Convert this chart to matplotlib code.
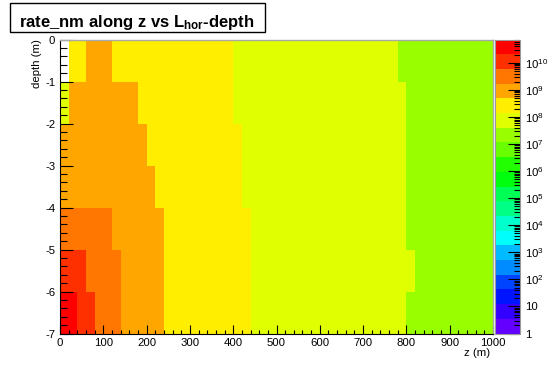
import colorsys
import numpy as np
import matplotlib
matplotlib.use('Agg')
import matplotlib.pyplot as plt
from matplotlib.colors import ListedColormap, LogNorm
from matplotlib.ticker import MultipleLocator, FixedLocator, LogLocator, NullFormatter
from matplotlib.patches import Rectangle

plt.rcParams['font.family'] = ['Liberation Sans', 'DejaVu Sans']
plt.rcParams['axes.unicode_minus'] = False
plt.rcParams['mathtext.fontset'] = 'custom'
plt.rcParams['mathtext.rm'] = 'Liberation Sans'
plt.rcParams['mathtext.bf'] = 'Liberation Sans:bold'
plt.rcParams['mathtext.default'] = 'regular'

# binning of the histogram
z_edges = np.arange(0, 1001, 20)
depth_edges = np.arange(0, -8, -1)

# each depth slice (top one is 0..-1 m): upper z of each segment and its rate
slice_breaks = [
    [20, 60, 120, 400, 780, 1000],
    [20, 180, 400, 800, 1000],
    [200, 420, 800, 1000],
    [220, 420, 800, 1000],
    [120, 240, 440, 800, 1000],
    [60, 140, 240, 440, 820, 1000],
    [40, 80, 140, 240, 440, 800, 1000],
]
slice_rates = [
    [0, 3e8, 1e9, 3e8, 1e8, 2e7],
    [1e8, 1e9, 3e8, 1e8, 2e7],
    [1e9, 3e8, 1e8, 2e7],
    [1e9, 3e8, 1e8, 2e7],
    [3e9, 1e9, 3e8, 1e8, 2e7],
    [1e10, 3e9, 1e9, 3e8, 1e8, 2e7],
    [3e10, 1e10, 3e9, 1e9, 3e8, 1e8, 2e7],
]

cbar_ticks = [10**k for k in range(11)]
cbar_labels = ['1', '10'] + [f'$10^{{{k}}}$' for k in range(2, 11)]

# fill the 2D histogram from the segments
centers = 0.5 * (z_edges[:-1] + z_edges[1:])
grid = []
for breaks, rates in zip(slice_breaks, slice_rates):
    idx = np.searchsorted(breaks, centers)
    grid.append(np.array(rates)[idx])
grid = np.ma.masked_less_equal(np.array(grid), 0)

# ROOT "pretty" palette (violet -> red), 20 contour levels
n_levels = 20
pal = []
for j in range(n_levels):
    i = int((j + 0.99) * 50 / n_levels)
    hue = 280 - (i + 1) * 5.6
    pal.append(colorsys.hls_to_rgb(hue / 360, 0.5, 1.0))
cmap = ListedColormap(pal)
cmap.set_bad('white')
norm = LogNorm(vmin=1, vmax=10**10.86)

W, H = 552, 374
fig = plt.figure(figsize=(W / 100, H / 100), dpi=100)
ax = fig.add_axes([60 / W, 1 - 333.5 / H, 433 / W, 294 / H])
cax = fig.add_axes([495 / W, 1 - 333.5 / H, 24.5 / W, 294 / H])

mesh = ax.pcolormesh(z_edges, depth_edges, grid, cmap=cmap, norm=norm)
ax.set_xlim(0, 1000)
ax.set_ylim(-7, 0)

ax.xaxis.set_major_locator(MultipleLocator(100))
ax.xaxis.set_minor_locator(MultipleLocator(20))
ax.yaxis.set_major_locator(MultipleLocator(1))
ax.yaxis.set_minor_locator(MultipleLocator(0.2))
ax.tick_params(which='both', direction='in', labelsize=8.2, width=0.8)
ax.tick_params(axis='x', which='major', length=6.5, pad=3)
ax.tick_params(axis='x', which='minor', length=3.2)
ax.tick_params(axis='y', which='major', length=9.5, pad=3.5)
ax.tick_params(axis='y', which='minor', length=4.7)
for s in ['top', 'right']:
    ax.spines[s].set_color('#aaaaaa')
    ax.spines[s].set_linewidth(1.0)

ax.set_xlabel('z (m)', loc='right', fontsize=8.2)
ax.xaxis.set_label_coords(0.993, -0.048)
ax.set_ylabel('depth (m)', loc='top', fontsize=8.2)
ax.yaxis.set_label_coords(-0.042, 1.0)

cb = fig.colorbar(mesh, cax=cax)
cb.outline.set_edgecolor('#999999')
cb.outline.set_linewidth(0.8)
cax.yaxis.set_major_locator(FixedLocator(cbar_ticks))
cax.yaxis.set_ticklabels(cbar_labels)
cax.yaxis.set_minor_locator(LogLocator(base=10, subs=np.arange(2, 10), numticks=100))
cax.yaxis.set_minor_formatter(NullFormatter())
cax.tick_params(which='both', direction='in', right=True, left=False,
                labelsize=8.2, width=0.8, pad=4.3)
cax.tick_params(which='major', length=9)
cax.tick_params(which='minor', length=4.5)

# title box
fig.patches.append(Rectangle((10 / W, 1 - 32 / H), 255 / W, 29 / H,
                             transform=fig.transFigure, facecolor='white',
                             edgecolor='black', linewidth=1.0))
fig.text(137 / W, 1 - 26.5 / H, r'rate_nm along z vs L$_{\mathbf{hor}}$-depth',
         ha='center', va='baseline', fontsize=12, fontweight='bold')

fig.savefig('out.png', dpi=100)
